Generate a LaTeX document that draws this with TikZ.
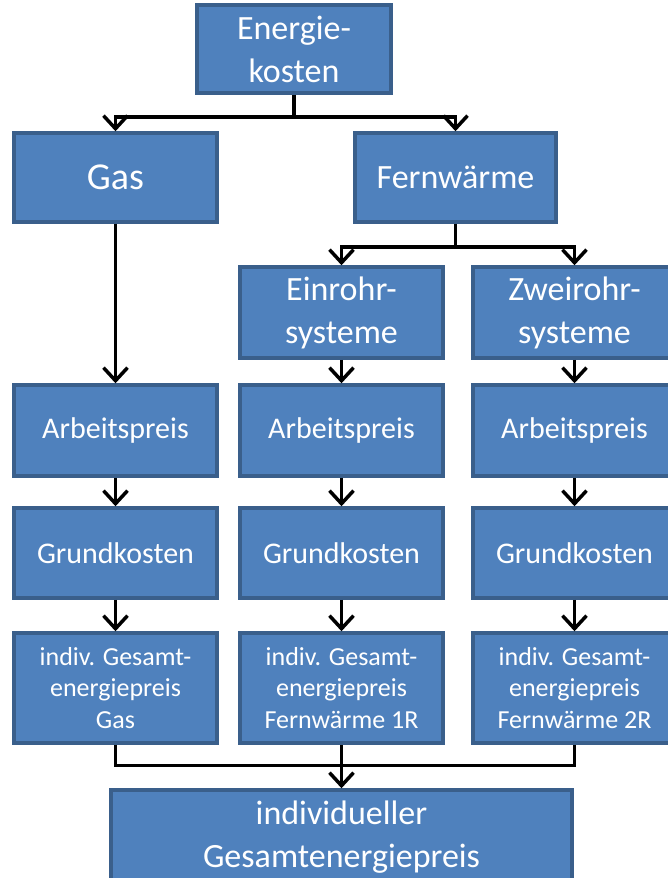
\documentclass[tikz,border=0pt]{standalone}
\usepackage{fontspec}
\setmainfont{Carlito}
\usetikzlibrary{arrows.meta,calc}
\definecolor{boxfill}{HTML}{4F81BD}
\definecolor{boxedge}{HTML}{3A5F8B}
\tikzset{
  box/.style={draw=boxedge, line width=3.5pt, fill=boxfill, text=white, align=center, inner sep=0pt},
  big/.style={font=\fontsize{34}{43}\selectfont},
  huge/.style={font=\fontsize{38}{43}\selectfont},
  mid/.style={font=\fontsize{30}{32}\selectfont},
  sml/.style={font=\fontsize{26}{31.5}\selectfont},
  conn/.style={line width=3.5pt, black},
  arr/.style={conn, -{Straight Barb[length=13pt,width=24pt,line width=3.5pt]}}
}
\begin{document}
\begin{tikzpicture}[x=1pt,y=-1pt]
\useasboundingbox (0,0) rectangle (667,878);
% boxes
\node[box,big,minimum width=194pt,minimum height=88pt] (E) at (294,49) {Energie-\\kosten};
\node[box,huge,minimum width=203pt,minimum height=89pt] (Gas) at (115.5,177.5) {Gas};
\node[box,big,minimum width=201pt,minimum height=89pt] (Fern) at (455.5,177.5) {Fernwärme};
\node[box,big,minimum width=203pt,minimum height=91pt] (Ein) at (341.5,312.5) {Einrohr-\\systeme};
\node[box,big,minimum width=203pt,minimum height=91pt] (Zwei) at (574.5,312.5) {Zweirohr-\\systeme};
\node[box,mid,minimum width=203pt,minimum height=91pt] (aG) at (115.5,430.5) {Arbeitspreis};
\node[box,mid,minimum width=203pt,minimum height=91pt] (aE) at (341.5,430.5) {Arbeitspreis};
\node[box,mid,minimum width=203pt,minimum height=91pt] (aZ) at (574.5,430.5) {Arbeitspreis};
\node[box,mid,minimum width=203pt,minimum height=90pt] (gG) at (115.5,553) {Grundkosten};
\node[box,mid,minimum width=203pt,minimum height=90pt] (gE) at (341.5,553) {Grundkosten};
\node[box,mid,minimum width=203pt,minimum height=90pt] (gZ) at (574.5,553) {Grundkosten};
\node[box,sml,minimum width=203pt,minimum height=110pt] (iG) at (115.5,688) {indiv. Gesamt-\\energiepreis\\Gas};
\node[box,sml,minimum width=203pt,minimum height=110pt] (iE) at (341.5,688) {indiv. Gesamt-\\energiepreis\\Fernwärme 1R};
\node[box,sml,minimum width=203pt,minimum height=110pt] (iZ) at (574.5,688) {indiv. Gesamt-\\energiepreis\\Fernwärme 2R};
\node[box,big,minimum width=461pt,minimum height=94pt] (Bot) at (341.5,837) {individueller\\Gesamtenergiepreis};
% connectors
\coordinate (s1) at ($(E.south)+(0,22)$);
\draw[arr] (E.south) -- (s1) -| (Gas.north);
\draw[arr] (s1) -| (Fern.north);
\coordinate (s2) at ($(Fern.south)+(0,23)$);
\draw[arr] (Fern.south) -- (s2) -| (Ein.north);
\draw[arr] (s2) -| (Zwei.north);
\draw[arr] (Gas.south) -- (aG.north);
\draw[arr] (Ein.south) -- (aE.north);
\draw[arr] (Zwei.south) -- (aZ.north);
\draw[arr] (aG.south) -- (gG.north);
\draw[arr] (aE.south) -- (gE.north);
\draw[arr] (aZ.south) -- (gZ.north);
\draw[arr] (gG.south) -- (iG.north);
\draw[arr] (gE.south) -- (iE.north);
\draw[arr] (gZ.south) -- (iZ.north);
\coordinate (m) at ($(Bot.north)+(0,-23)$);
\draw[conn] (iG.south) |- (m);
\draw[conn] (iZ.south) |- (m);
\draw[arr] (iE.south) -- (Bot.north);
\end{tikzpicture}
\end{document}
